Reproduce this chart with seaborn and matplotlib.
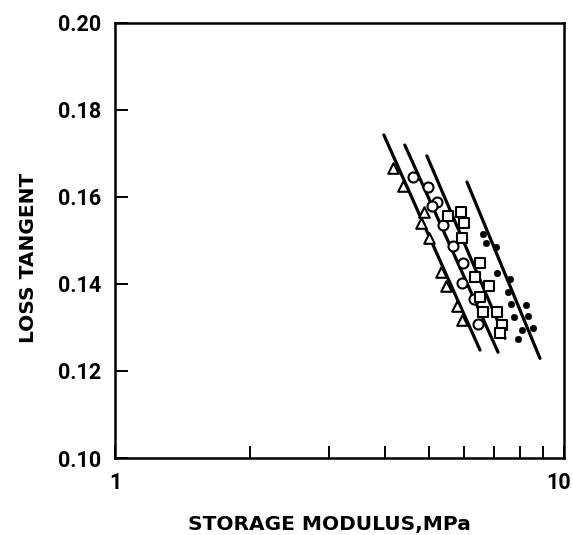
import seaborn as sns
import matplotlib.pyplot as plt
import matplotlib.ticker as mticker
import matplotlib.transforms as mtrans
import pandas as pd

# values (x in MPa, y = loss tangent)
tri_x = [4.16, 4.38, 4.88, 4.80, 5.00, 5.32, 5.46, 5.78, 5.93]
tri_y = [0.1666, 0.1625, 0.1565, 0.1540, 0.1505, 0.1427, 0.1395, 0.1349, 0.1317]

circ_x = [4.61, 4.98, 5.21, 5.08, 5.38, 5.66, 5.96, 5.93, 6.30, 6.43]
circ_y = [0.1645, 0.1622, 0.1588, 0.1579, 0.1535, 0.1487, 0.1448, 0.1402, 0.1365, 0.1307]

sq_x = [5.52, 5.90, 5.99, 5.93, 6.50, 6.34, 6.81, 6.50, 6.60, 7.09, 7.28, 7.20]
sq_y = [0.1556, 0.1565, 0.1540, 0.1505, 0.1448, 0.1415, 0.1395, 0.1369, 0.1335, 0.1335, 0.1305, 0.1287]

dot_x = [6.60, 6.70, 7.06, 7.09, 7.58, 7.50, 7.62, 8.23, 7.74, 8.31, 8.06, 8.53, 7.90]
dot_y = [0.1514, 0.1494, 0.1484, 0.1425, 0.1411, 0.1381, 0.1353, 0.1351, 0.1323, 0.1326, 0.1294, 0.1298, 0.1273]

# fitted lines, end points
line_x = [[3.97, 6.50], [4.42, 7.13], [4.95, 7.39], [6.08, 8.84]]
line_y = [[0.1742, 0.1248], [0.1719, 0.1243], [0.1694, 0.1275], [0.1634, 0.1229]]

sns.set_style("ticks")
plt.rcParams['font.family'] = ['Roboto', 'DejaVu Sans']
plt.rcParams['font.weight'] = 'bold'
plt.rcParams['text.color'] = 'black'
plt.rcParams['axes.labelcolor'] = 'black'
plt.rcParams['xtick.color'] = 'black'
plt.rcParams['ytick.color'] = 'black'

fig = plt.figure(figsize=(5.73, 5.35), dpi=100)
ax = fig.add_axes([0.2007, 0.1439, 0.7836, 0.8137])

for lx, ly in zip(line_x, line_y):
    df = pd.DataFrame({"x": lx, "y": ly})
    sns.lineplot(x="x", y="y", data=df, color="black", linewidth=2.3, ax=ax)

open_kw = dict(facecolor="white", edgecolor="black", linewidth=1.5, ax=ax, zorder=3)
sns.scatterplot(x=tri_x, y=tri_y, marker="^", s=58, **open_kw)
sns.scatterplot(x=circ_x, y=circ_y, marker="o", s=52, **open_kw)
sns.scatterplot(x=sq_x, y=sq_y, marker="s", s=58, **open_kw)
sns.scatterplot(x=dot_x, y=dot_y, marker="o", s=22, color="black", edgecolor="black", ax=ax, zorder=3)

ax.set_xscale("log")
ax.set_xlim(1, 10)
ax.set_ylim(0.10, 0.20)
ax.xaxis.set_major_locator(mticker.FixedLocator([1, 10]))
ax.xaxis.set_major_formatter(mticker.FixedFormatter(["1", "10"]))
ax.xaxis.set_minor_locator(mticker.FixedLocator([2, 3, 4, 5, 6, 7, 8, 9]))
ax.xaxis.set_minor_formatter(mticker.NullFormatter())
ax.set_yticks([0.10, 0.12, 0.14, 0.16, 0.18, 0.20])
ax.set_yticklabels(["0.10", "0.12", "0.14", "0.16", "0.18", "0.20"])

ax.tick_params(axis="both", which="both", direction="in", length=9, width=1.4,
               labelsize=15.5, color="black", labelcolor="black")
ax.tick_params(axis="x", which="major", pad=10)
ax.tick_params(axis="y", which="major", pad=10)
for s in ax.spines.values():
    s.set_linewidth(1.8)
    s.set_color("black")

# nudge the "10" label left so it stays inside the figure
fig.canvas.draw()
lab10 = ax.get_xticklabels()[-1]
lab10.set_transform(lab10.get_transform() + mtrans.ScaledTranslation(-5 / 100, 0, fig.dpi_scale_trans))

ax.set_xlabel("STORAGE MODULUS,MPa", fontsize=14.5, fontweight="bold", family="DejaVu Sans", color="black")
ax.set_ylabel("LOSS TANGENT", fontsize=14.5, fontweight="bold", family="DejaVu Sans", color="black")
ax.xaxis.set_label_coords(0.4766, -0.130)
ax.yaxis.set_label_coords(-0.172, 0.459)

fig.savefig("out.png", dpi=100)
